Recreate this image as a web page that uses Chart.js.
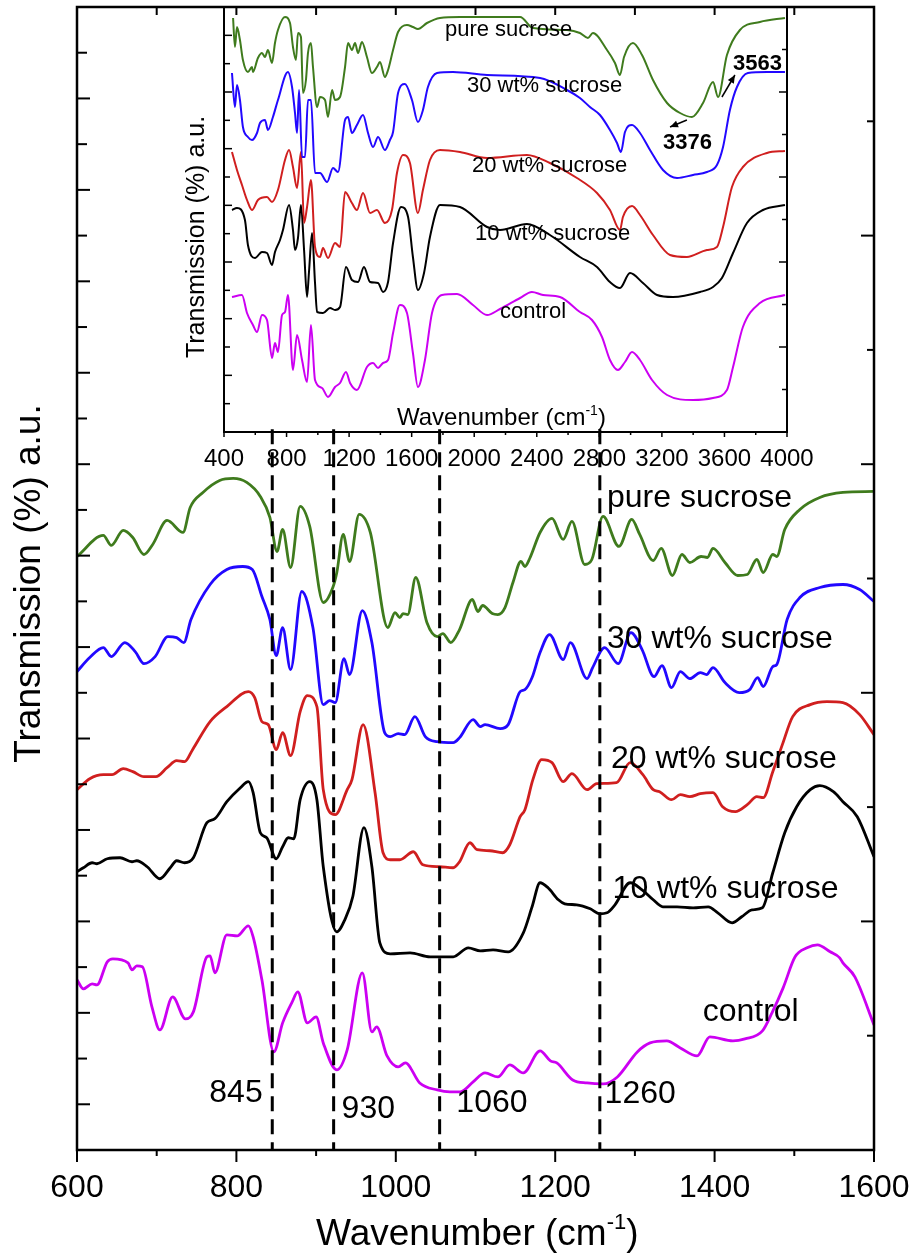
<!DOCTYPE html>
<html><head><meta charset="utf-8">
<script src="https://cdn.jsdelivr.net/npm/chart.js@4.4.1/dist/chart.umd.min.js"></script>
<style>
html,body{margin:0;padding:0;background:#fff;}
#wrap{position:relative;width:915px;height:1256px;background:#fff;}
canvas{position:absolute;left:0;top:0;}
</style></head><body>
<div id="wrap"><canvas id="main" width="915" height="1256"></canvas><canvas id="inset" width="915" height="1256"></canvas></div>
<script>
const FONT = '"Liberation Sans", Arial, Helvetica, sans-serif';

// ---------- main panel (600-1600 cm-1) ----------
const seriesNames = ['pure sucrose', '30 wt% sucrose', '20 wt% sucrose', '10 wt% sucrose', 'control'];
const mainXTicks = [600, 800, 1000, 1200, 1400, 1600];
const markerWavenumbers = [845, 922, 1055, 1256];
const markerLabels = ['845', '930', '1060', '1260'];

const mainPure = [[600,593],[633,614],[643,604],[658,619],[670,612],[684,595],[695,605],[713,629],[733,617],[742,642],[758,657],[779,669],[796,671],[813,667],[830,653],[842,632],[851,598],[858,620],[868,582],[880,643],[892,623],[909,547],[921,562],[926,577],[934,615],[942,588],[954,635],[968,617],[990,522],[999,537],[1005,532],[1009,536],[1015,535],[1025,572],[1039,527],[1052,513],[1059,516],[1069,507],[1080,520],[1096,550],[1103,538],[1109,544],[1121,536],[1128,535],[1137,542],[1147,567],[1157,588],[1162,583],[1168,591],[1181,617],[1196,631],[1210,610],[1221,628],[1237,585],[1246,590],[1260,633],[1280,603],[1296,630],[1306,615],[1323,589],[1333,601],[1347,574],[1359,595],[1369,587],[1383,593],[1391,592],[1398,601],[1413,587],[1429,574],[1441,575],[1453,590],[1461,577],[1473,595],[1478,593],[1488,620],[1507,640],[1532,652],[1561,657],[1600,658]];
const main30 = [[600,478],[616,492],[633,502],[643,493],[660,507],[673,498],[684,486],[698,493],[714,513],[725,512],[734,507],[743,530],[767,565],[788,580],[808,583],[820,580],[832,553],[842,530],[850,494],[858,522],[868,480],[882,558],[896,522],[909,445],[917,449],[924,447],[935,491],[942,475],[958,539],[970,507],[986,417],[993,413],[1003,416],[1011,415],[1024,433],[1037,413],[1052,408],[1072,407],[1080,412],[1097,430],[1106,423],[1112,425],[1131,421],[1141,425],[1156,458],[1162,460],[1171,472],[1181,497],[1193,515],[1210,490],[1219,507],[1240,471],[1247,482],[1262,502],[1279,486],[1295,517],[1309,500],[1324,473],[1334,484],[1346,462],[1357,478],[1369,471],[1382,477],[1390,475],[1398,482],[1413,467],[1431,457],[1444,460],[1454,472],[1461,463],[1473,483],[1478,485],[1491,530],[1507,552],[1532,562],[1561,565],[1582,560],[1600,548]];
const main20 = [[600,360],[616,371],[633,375],[644,375],[658,381],[670,378],[684,373],[699,373],[713,382],[725,389],[735,388],[745,400],[767,428],[788,443],[815,458],[823,452],[832,428],[840,425],[850,400],[858,417],[868,394],[880,438],[889,454],[901,443],[909,360],[924,335],[939,360],[945,370],[959,425],[974,357],[984,297],[993,290],[1005,290],[1022,298],[1034,285],[1055,283],[1072,282],[1080,288],[1093,307],[1102,300],[1118,299],[1134,297],[1143,305],[1156,333],[1162,340],[1172,370],[1183,390],[1196,387],[1210,368],[1221,376],[1240,360],[1252,366],[1277,367],[1294,387],[1310,375],[1323,360],[1331,358],[1346,350],[1357,355],[1369,353],[1382,356],[1398,357],[1410,343],[1426,338],[1441,345],[1453,353],[1461,352],[1473,378],[1485,405],[1498,433],[1520,445],[1541,448],[1561,447],[1582,435],[1600,415]];
const main10 = [[600,278],[608,282],[619,287],[625,286],[638,291],[654,292],[669,288],[675,289],[688,283],[704,271],[717,282],[725,289],[735,287],[746,292],[763,327],[773,331],[788,348],[805,362],[815,368],[821,357],[830,317],[838,312],[850,291],[858,303],[865,312],[872,311],[880,350],[892,368],[901,350],[909,283],[926,218],[936,230],[946,253],[960,322],[970,283],[980,207],[993,196],[1018,197],[1043,193],[1072,193],[1091,202],[1106,199],[1122,200],[1141,198],[1160,217],[1171,243],[1181,267],[1191,262],[1204,250],[1212,246],[1227,245],[1244,241],[1256,236],[1265,237],[1275,245],[1294,267],[1309,260],[1323,250],[1335,243],[1353,243],[1373,242],[1392,243],[1404,237],[1422,227],[1434,233],[1447,240],[1460,242],[1473,277],[1488,317],[1503,343],[1520,360],[1532,364],[1549,358],[1561,348],[1579,333],[1600,293]];
const mainControl = [[600,170],[608,161],[619,166],[625,165],[638,188],[645,191],[664,187],[669,180],[675,184],[682,183],[694,143],[704,120],[720,153],[736,131],[746,138],[763,193],[767,194],[773,177],[788,215],[801,214],[815,224],[821,213],[832,170],[847,98],[858,127],[870,148],[877,158],[889,127],[900,133],[909,107],[926,80],[939,100],[958,177],[970,118],[976,123],[989,94],[1003,83],[1012,87],[1030,67],[1052,60],[1068,58],[1081,58],[1097,68],[1112,77],[1128,73],[1143,85],[1160,77],[1181,99],[1194,89],[1202,87],[1222,70],[1240,67],[1260,66],[1278,73],[1303,98],[1319,107],[1340,109],[1357,102],[1378,94],[1394,113],[1423,109],[1438,111],[1460,119],[1472,137],[1486,162],[1501,193],[1516,202],[1529,205],[1545,198],[1557,192],[1561,187],[1576,173],[1600,125]];

// ---------- inset (400-4000 cm-1) ----------
const insetXTicks = [400, 800, 1200, 1600, 2000, 2400, 2800, 3200, 3600, 4000];
const insetPure = [[458,414],[470,385],[483,405],[502,392],[521,372],[553,360],[579,365],[585,360],[617,374],[643,379],[662,375],[681,382],[707,369],[726,389],[745,402],[790,415],[822,409],[841,385],[860,372],[873,399],[892,395],[905,339],[924,352],[937,379],[956,389],[969,365],[995,325],[1014,335],[1046,332],[1065,315],[1091,342],[1110,332],[1142,335],[1174,365],[1193,389],[1218,382],[1238,389],[1257,379],[1282,390],[1314,375],[1346,359],[1378,365],[1397,370],[1429,355],[1449,362],[1481,382],[1513,400],[1570,407],[1608,405],[1640,403],[1698,409],[1781,414],[1909,415],[2293,415],[2376,404],[2593,402],[2676,399],[2727,394],[2759,399],[2849,382],[2900,369],[2932,357],[2958,375],[3015,389],[3073,377],[3143,352],[3233,329],[3316,319],[3392,315],[3463,329],[3527,350],[3559,335],[3616,377],[3699,402],[3827,410],[3987,414]];
const inset30 = [[451,359],[470,325],[483,347],[502,332],[521,305],[553,295],[579,292],[611,299],[630,309],[662,312],[681,302],[713,315],[745,332],[809,360],[835,345],[854,319],[867,299],[880,342],[899,275],[918,275],[937,332],[956,332],[982,259],[1014,259],[1059,250],[1097,264],[1129,260],[1174,312],[1193,315],[1218,299],[1250,307],[1289,317],[1321,299],[1353,285],[1385,295],[1429,282],[1461,292],[1481,300],[1513,339],[1557,348],[1602,332],[1640,310],[1672,322],[1704,345],[1762,359],[1864,360],[2082,357],[2421,354],[2593,342],[2676,334],[2740,325],[2804,317],[2868,302],[2913,289],[2938,280],[2964,300],[3009,307],[3060,299],[3124,282],[3207,262],[3297,254],[3399,257],[3488,260],[3552,267],[3591,285],[3635,322],[3680,345],[3750,359],[3872,360],[3987,360]];
const inset20 = [[451,280],[483,262],[515,247],[547,232],[579,222],[617,232],[675,235],[707,230],[745,242],[790,272],[816,282],[841,265],[867,244],[892,280],[912,209],[931,225],[956,252],[982,185],[1014,175],[1033,184],[1065,174],[1110,189],[1142,185],[1174,240],[1218,229],[1250,222],[1289,239],[1334,219],[1378,222],[1429,209],[1474,222],[1506,259],[1545,277],[1589,269],[1640,219],[1672,242],[1717,272],[1781,282],[1909,280],[2082,274],[2337,277],[2484,269],[2657,254],[2785,239],[2868,222],[2932,202],[2951,215],[3009,226],[3060,217],[3143,197],[3252,177],[3360,175],[3488,182],[3552,185],[3591,205],[3648,245],[3718,265],[3872,279],[3987,281]];
const inset10 = [[451,222],[483,224],[534,212],[553,187],[598,174],[643,180],[675,179],[707,167],[726,180],[758,192],[777,202],[816,227],[841,202],[854,182],[873,194],[892,227],[912,182],[931,135],[943,159],[963,199],[982,149],[995,120],[1033,119],[1078,124],[1110,122],[1142,125],[1180,165],[1218,152],[1257,150],[1295,165],[1334,150],[1385,149],[1417,140],[1449,150],[1481,189],[1532,225],[1577,215],[1608,175],[1640,142],[1679,159],[1717,195],[1781,227],[1909,225],[2082,205],[2165,202],[2337,208],[2484,197],[2676,175],[2785,165],[2868,150],[2932,144],[2996,159],[3079,149],[3169,137],[3271,135],[3444,140],[3527,145],[3584,154],[3655,179],[3744,209],[3846,222],[3987,227]];
const insetControl = [[451,135],[515,137],[547,119],[585,107],[611,100],[643,117],[675,112],[707,74],[726,89],[745,80],[771,117],[790,120],[809,137],[841,62],[867,97],[899,72],[931,50],[956,107],[982,52],[1027,44],[1065,35],[1110,45],[1142,49],[1180,60],[1206,49],[1250,42],[1314,65],[1353,69],[1385,64],[1417,69],[1449,72],[1481,99],[1525,127],[1570,119],[1608,79],[1640,45],[1685,72],[1730,119],[1794,137],[1890,138],[1992,127],[2082,117],[2165,123],[2293,134],[2369,140],[2440,137],[2548,135],[2676,120],[2753,112],[2817,95],[2868,72],[2919,62],[2964,70],[3009,80],[3060,72],[3137,52],[3233,37],[3399,32],[3527,34],[3616,42],[3655,65],[3718,105],[3827,129],[3987,137]];
const peakLabels = ['3563', '3376'];

const colors = ['#3f7b1d', '#2208ff', '#d01f1f', '#000000', '#cc00f2'];

function ds(label, pts, color, w) {
  return { label, data: pts.map(p => ({ x: p[0], y: p[1] })), borderColor: color, backgroundColor: color,
    borderWidth: w, pointRadius: 0, showLine: true, fill: false, cubicInterpolationMode: 'monotone' };
}

function tick(ctx, x1, y1, x2, y2) { ctx.beginPath(); ctx.moveTo(x1, y1); ctx.lineTo(x2, y2); ctx.stroke(); }

function supTitle(ctx, x, y, base, sup, tail, size) {
  ctx.textAlign = 'left'; ctx.textBaseline = 'alphabetic';
  ctx.font = size + 'px ' + FONT; ctx.fillText(base, x, y);
  let w = ctx.measureText(base).width;
  ctx.font = Math.round(size * 0.6) + 'px ' + FONT; ctx.fillText(sup, x + w, y - size * 0.42);
  w += ctx.measureText(sup).width;
  ctx.font = size + 'px ' + FONT; ctx.fillText(tail, x + w, y);
}

const mainDeco = {
  id: 'mainDeco',
  afterDatasetsDraw(chart) {
    const { ctx, chartArea: a, scales: { x, y } } = chart;
    ctx.save();
    ctx.fillStyle = '#000'; ctx.strokeStyle = '#000';
    // dashed marker lines
    ctx.lineWidth = 3; ctx.setLineDash([15, 8]);
    markerWavenumbers.forEach(v => { const px = x.getPixelForValue(v); tick(ctx, px, y.getPixelForValue(720), px, y.getPixelForValue(1)); });
    ctx.setLineDash([]);
    // frame
    ctx.lineWidth = 2.5; ctx.strokeRect(a.left, a.top, a.right - a.left, a.bottom - a.top);
    ctx.lineWidth = 2;
    // bottom ticks (outward) and top ticks (inward)
    for (let v = 600; v <= 1600; v += 100) {
      const px = x.getPixelForValue(v);
      tick(ctx, px, a.bottom, px, a.bottom + (v % 200 === 0 ? 12 : 6));
      if (v > 600 && v < 1600) tick(ctx, px, a.top, px, a.top + 8);
    }
    // left ticks inward
    const ls = (y.max - y.min) / 25;
    for (let k = 1; k < 25; k++) { const py = y.getPixelForValue(k * ls); tick(ctx, a.left, py, a.left + (k % 2 ? 13 : 10), py); }
    const rs = (y.max - y.min) / 10;
    for (let k = 1; k < 10; k++) { const py = y.getPixelForValue(k * rs); tick(ctx, a.right, py, a.right - (k % 2 ? 7 : 13), py); }
    // tick labels
    ctx.font = '32px ' + FONT; ctx.textAlign = 'center'; ctx.textBaseline = 'middle';
    mainXTicks.forEach(v => ctx.fillText(String(v), x.getPixelForValue(v), a.bottom + 38));
    // axis titles
    supTitle(ctx, x.getPixelForValue(900), a.bottom + 95, 'Wavenumber (cm', '-1', ')', 37);
    ctx.save(); ctx.translate(30, (a.top + a.bottom) / 2 + 5); ctx.rotate(-Math.PI / 2);
    ctx.font = '37px ' + FONT; ctx.textAlign = 'center'; ctx.textBaseline = 'middle';
    ctx.fillText('Transmission (%) a.u.', 0, 0); ctx.restore();
    // series labels
    ctx.font = '32px ' + FONT; ctx.textAlign = 'left'; ctx.textBaseline = 'alphabetic';
    const seriesPos = [[1265, 642], [1265, 502], [1270, 382], [1272, 252], [1385, 129]];
    seriesNames.forEach((s, i) => ctx.fillText(s, x.getPixelForValue(seriesPos[i][0]), y.getPixelForValue(seriesPos[i][1])));
    const markerPos = [[766, 48], [932, 32], [1076, 38], [1262, 47]];
    markerLabels.forEach((s, i) => ctx.fillText(s, x.getPixelForValue(markerPos[i][0]), y.getPixelForValue(markerPos[i][1])));
    ctx.restore();
  }
};

function arrow(ctx, x1, y1, x2, y2) {
  ctx.beginPath(); ctx.moveTo(x1, y1); ctx.lineTo(x2, y2); ctx.stroke();
  const ang = Math.atan2(y2 - y1, x2 - x1), L = 8, W = 3.5;
  ctx.beginPath(); ctx.moveTo(x2, y2);
  ctx.lineTo(x2 - L * Math.cos(ang) + W * Math.sin(ang), y2 - L * Math.sin(ang) - W * Math.cos(ang));
  ctx.lineTo(x2 - L * Math.cos(ang) - W * Math.sin(ang), y2 - L * Math.sin(ang) + W * Math.cos(ang));
  ctx.closePath(); ctx.fill();
}

const insetDeco = {
  id: 'insetDeco',
  afterDatasetsDraw(chart) {
    const { ctx, chartArea: a, scales: { x, y } } = chart;
    ctx.save();
    ctx.fillStyle = '#000'; ctx.strokeStyle = '#000';
    ctx.lineWidth = 2; ctx.strokeRect(a.left, a.top, a.right - a.left, a.bottom - a.top);
    ctx.lineWidth = 1.5;
    for (let v = 400; v <= 4000; v += 200) {
      const px = x.getPixelForValue(v);
      tick(ctx, px, a.bottom, px, a.bottom + ((v - 400) % 400 === 0 ? 5 : 3));
    }
    const ls = (y.max - y.min) / 15;
    for (let k = 1; k < 15; k++) { const py = y.getPixelForValue(k * ls); tick(ctx, a.left, py, a.left + (k % 2 ? 6 : 8), py); }
    const rs = (y.max - y.min) / 10;
    for (let k = 1; k < 10; k++) { const py = y.getPixelForValue(k * rs); tick(ctx, a.right, py, a.right - (k % 2 ? 5 : 8), py); }
    ctx.font = '24px ' + FONT; ctx.textAlign = 'center'; ctx.textBaseline = 'middle';
    insetXTicks.forEach(v => ctx.fillText(String(v), x.getPixelForValue(v), a.bottom + 27));
    supTitle(ctx, x.getPixelForValue(1506), y.getPixelForValue(7), 'Wavenumber (cm', '-1', ')', 24);
    ctx.save(); ctx.translate(197, 237); ctx.rotate(-Math.PI / 2);
    ctx.font = '25px ' + FONT; ctx.textAlign = 'center'; ctx.textBaseline = 'middle';
    ctx.fillText('Transmission (%) a.u.', 0, 0); ctx.restore();
    ctx.font = '22px ' + FONT; ctx.textAlign = 'left'; ctx.textBaseline = 'alphabetic';
    const pos = [[1813, 396], [1954, 340], [1986, 260], [2005, 192], [2165, 114]];
    seriesNames.forEach((s, i) => ctx.fillText(s, x.getPixelForValue(pos[i][0]), y.getPixelForValue(pos[i][1])));
    ctx.font = 'bold 22px ' + FONT;
    ctx.fillText(peakLabels[0], x.getPixelForValue(3655), y.getPixelForValue(362));
    ctx.fillText(peakLabels[1], x.getPixelForValue(3207), y.getPixelForValue(283));
    ctx.lineWidth = 1.5;
    arrow(ctx, x.getPixelForValue(3360), y.getPixelForValue(312), x.getPixelForValue(3252), y.getPixelForValue(305));
    arrow(ctx, x.getPixelForValue(3584), y.getPixelForValue(335), x.getPixelForValue(3667), y.getPixelForValue(357));
    ctx.restore();
  }
};

const baseOpts = (pad, xmin, xmax, ymax) => ({
  responsive: false, devicePixelRatio: 1, animation: false, events: [],
  layout: { padding: pad },
  plugins: { legend: { display: false }, tooltip: { enabled: false } },
  scales: { x: { type: 'linear', min: xmin, max: xmax, display: false }, y: { type: 'linear', min: 0, max: ymax, display: false } }
});

new Chart(document.getElementById('main'), {
  type: 'scatter',
  data: { datasets: [mainPure, main30, main20, main10, mainControl].map((d, i) => ds(seriesNames[i], d, colors[i], 2.8)) },
  options: baseOpts({ left: 77, right: 41, top: 7, bottom: 106 }, 600, 1600, 1142),
  plugins: [mainDeco]
});

new Chart(document.getElementById('inset'), {
  type: 'scatter',
  data: { datasets: [insetPure, inset30, inset20, inset10, insetControl].map((d, i) => ds(seriesNames[i], d, colors[i], 2)) },
  options: baseOpts({ left: 224, right: 128, top: 7, bottom: 824 }, 400, 4000, 425),
  plugins: [insetDeco]
});
</script>
</body></html>
